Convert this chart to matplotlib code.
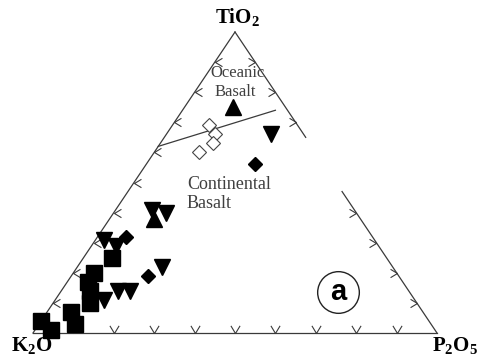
import matplotlib.pyplot as plt
from matplotlib.path import Path

plt.rcParams['font.family'] = ['Liberation Serif', 'DejaVu Serif']
plt.rcParams['mathtext.fontset'] = 'custom'
plt.rcParams['mathtext.rm'] = 'Liberation Serif'
plt.rcParams['mathtext.bf'] = 'Liberation Serif:bold'

# compositions in wt% : TiO2, K2O, P2O5
open_diamond_tio2 = [69, 66, 63, 60]
open_diamond_k2o = [22, 22, 24, 29]
open_diamond_p2o5 = [9, 12, 13, 11]

up_tri_tio2 = [75, 38]
up_tri_k2o = [13, 51]
up_tri_p2o5 = [12, 11]

down_tri_tio2 = [66, 41, 40, 31, 29, 22, 14, 14, 11]
down_tri_k2o = [8, 50, 47, 67, 65, 57, 72, 69, 77]
down_tri_p2o5 = [26, 9, 13, 2, 6, 21, 14, 17, 12]

diamond_tio2 = [56, 32, 19]
diamond_k2o = [17, 61, 62]
diamond_p2o5 = [27, 7, 19]

square_tio2 = [25, 20, 17, 14, 10, 7, 3, 4, 1]
square_k2o = [68, 75, 78, 79, 81, 87, 88, 96, 95]
square_p2o5 = [7, 5, 5, 7, 9, 6, 9, 0, 4]

# oceanic / continental divide (TiO2, K2O, P2O5 at both ends)
divide_tio2 = [62, 74]
divide_k2o = [38, 3]
divide_p2o5 = [0, 23]

tick_values = [10, 20, 30, 40, 50, 60, 70, 80, 90]


def tern(t, k, p):
    xs, ys = [], []
    for a, b, c in zip(t, k, p):
        s = float(a + b + c)
        xs.append(c / s + 0.5 * a / s)
        ys.append(a / s)
    return xs, ys


fig = plt.figure(figsize=(4.82, 3.60), dpi=100)
ax = fig.add_axes([33 / 482, 27 / 360, 404 / 482, 301 / 360])
ax.set_xlim(0, 1)
ax.set_ylim(0, 1)
ax.axis('off')

edge = '#3a3a3a'
# triangle frame, right side is broken between 47 and 65 % TiO2
x, y = tern([0, 0, 100], [100, 0, 0], [0, 100, 0])
ax.plot([x[0], x[1]], [y[0], y[1]], color=edge, lw=0.9, clip_on=False)
ax.plot([x[0], x[2]], [y[0], y[2]], color=edge, lw=0.9, clip_on=False)
x, y = tern([100, 65], [0, 0], [0, 35])
ax.plot(x, y, color=edge, lw=0.9, clip_on=False)
x, y = tern([47, 0], [0, 0], [53, 100])
ax.plot(x, y, color=edge, lw=0.9, clip_on=False)

# chevron ticks along the edges
vee = Path([(-0.6, 1), (0, 0), (0.6, 1)], [Path.MOVETO, Path.LINETO, Path.LINETO])
left_chev = Path([(1, 0.6), (0, 0), (1, -0.6)], [Path.MOVETO, Path.LINETO, Path.LINETO])
right_chev = Path([(-1, 0.6), (0, 0), (-1, -0.6)], [Path.MOVETO, Path.LINETO, Path.LINETO])
zeros = [0] * len(tick_values)
rest = [100 - v for v in tick_values]

x, y = tern(zeros, rest, tick_values)
ax.plot(x, y, ls='none', marker=vee, ms=11, mfc='none', mec=edge, mew=0.8, clip_on=False)
x, y = tern(tick_values, rest, zeros)
ax.plot(x, y, ls='none', marker=left_chev, ms=10, mfc='none', mec=edge, mew=0.8, clip_on=False)
right_t = [v for v in tick_values if v < 47 or v > 65]
x, y = tern(right_t, [0] * len(right_t), [100 - v for v in right_t])
ax.plot(x, y, ls='none', marker=right_chev, ms=10, mfc='none', mec=edge, mew=0.8, clip_on=False)

x, y = tern(divide_tio2, divide_k2o, divide_p2o5)
ax.plot(x, y, color=edge, lw=0.9, clip_on=False)

# samples
x, y = tern(square_tio2, square_k2o, square_p2o5)
ax.plot(x, y, ls='none', marker='s', ms=11.5, color='black', clip_on=False, zorder=3)
x, y = tern(down_tri_tio2, down_tri_k2o, down_tri_p2o5)
ax.plot(x, y, ls='none', marker='v', ms=11, color='black', clip_on=False, zorder=3)
x, y = tern(up_tri_tio2, up_tri_k2o, up_tri_p2o5)
ax.plot(x, y, ls='none', marker='^', ms=11, color='black', clip_on=False, zorder=3)
x, y = tern(diamond_tio2, diamond_k2o, diamond_p2o5)
ax.plot(x, y, ls='none', marker='D', ms=7.5, color='black', clip_on=False, zorder=3)
x, y = tern(open_diamond_tio2, open_diamond_k2o, open_diamond_p2o5)
ax.plot(x, y, ls='none', marker='D', ms=7, mfc='white', mec='#444444', mew=0.8,
        clip_on=False, zorder=3)

# corner labels
ax.annotate(r'$\mathbf{TiO_2}$', xy=(0.5, 1), xytext=(2, 11), textcoords='offset points',
            ha='center', va='center', fontsize=15, annotation_clip=False)
ax.annotate(r'$\mathbf{K_2O}$', xy=(0, 0), xytext=(-1, -9), textcoords='offset points',
            ha='center', va='center', fontsize=15, annotation_clip=False)
ax.annotate(r'$\mathbf{P_2O_5}$', xy=(1, 0), xytext=(13, -9), textcoords='offset points',
            ha='center', va='center', fontsize=15, annotation_clip=False)

ax.text(0.505, 0.864, 'Oceanic', ha='center', va='center', fontsize=12, color='#404040')
ax.text(0.50, 0.80, 'Basalt', ha='center', va='center', fontsize=12, color='#404040')
ax.text(0.381, 0.495, 'Continental', ha='left', va='center', fontsize=13, color='#404040')
ax.text(0.381, 0.429, 'Basalt', ha='left', va='center', fontsize=13, color='#404040')

# panel tag
ax.plot([0.755], [0.136], ls='none', marker='o', ms=30, mfc='none', mec='#222222', mew=1.0)
ax.text(0.755, 0.136, 'a', ha='center', va='center', fontsize=21, fontweight='bold',
        family='Liberation Sans')

fig.savefig('out.png', dpi=100)
